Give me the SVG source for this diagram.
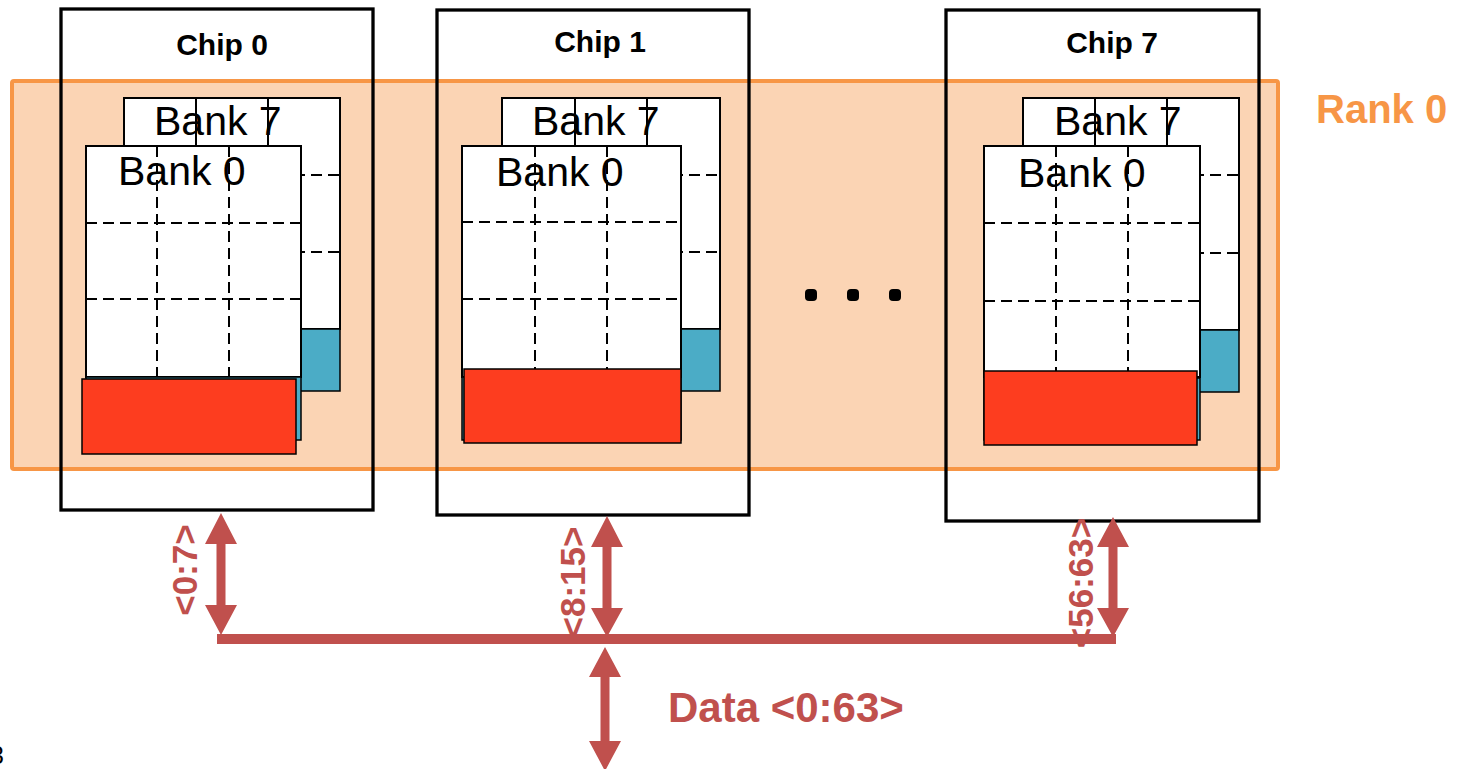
<svg xmlns="http://www.w3.org/2000/svg" width="1459" height="769" viewBox="0 0 1459 769">
<style>
.chip{fill:none;stroke:#000;stroke-width:3.3}
.chipt{font-family:"Liberation Sans",Arial,sans-serif;font-weight:bold;font-size:30px;fill:#000;text-anchor:middle}
.bank{fill:#fff;stroke:#000;stroke-width:2}
.grid{stroke:#000;stroke-width:2;stroke-dasharray:11 6;fill:none}
.solid{stroke:#000;stroke-width:2;fill:none}
.buf{fill:#4BACC6;stroke:#000;stroke-width:1.5}
.red{fill:#FD3D1F;stroke:#000;stroke-width:1.5}
.bankt{font-family:"Liberation Sans",Arial,sans-serif;font-size:41px;fill:#000}
.lbl{font-family:"Liberation Sans",Arial,sans-serif;font-weight:bold;font-size:35px;fill:#C0504D;text-anchor:middle}
.arr{fill:#C0504D}
</style>

<g id="rank0">
<rect x="12" y="81" width="1266" height="388" rx="2" fill="#FBD4B4" stroke="#F79646" stroke-width="4"/>
<text x="1316" y="123" font-family="'Liberation Sans',Arial,sans-serif" font-weight="bold" font-size="40" fill="#F79646">Rank 0</text>
</g>

<g id="chip0">
<rect class="chip" x="61" y="9" width="312" height="501"/>
<text class="chipt" x="222" y="55">Chip 0</text>
<g id="chip0-bank7">
<rect class="bank" x="124" y="98" width="216" height="231"/>
<text class="bankt" x="154" y="135">Bank 7</text>
<line class="solid" x1="196" y1="98" x2="196" y2="146"/>
<line class="solid" x1="268" y1="98" x2="268" y2="146"/>
<line class="grid" x1="124" y1="175" x2="340" y2="175"/>
<line class="grid" x1="124" y1="252" x2="340" y2="252"/>
<rect class="buf" x="124" y="329" width="216" height="62"/>
</g>
<g id="chip0-bank0">
<rect class="bank" x="86" y="146" width="215" height="231"/>
<text class="bankt" x="118" y="185">Bank 0</text>
<line class="grid" x1="157" y1="146" x2="157" y2="377"/>
<line class="grid" x1="229" y1="146" x2="229" y2="377"/>
<line class="grid" x1="86" y1="223" x2="301" y2="223"/>
<line class="grid" x1="86" y1="299" x2="301" y2="299"/>
<rect class="buf" x="86" y="377" width="215" height="63"/>
<rect class="red" x="82" y="379" width="214" height="75"/>
</g>
</g>

<g id="chip1">
<rect class="chip" x="437" y="10" width="312" height="505"/>
<text class="chipt" x="600" y="52">Chip 1</text>
<g id="chip1-bank7">
<rect class="bank" x="502" y="98" width="218" height="231"/>
<text class="bankt" x="532" y="135">Bank 7</text>
<line class="solid" x1="575" y1="98" x2="575" y2="146"/>
<line class="solid" x1="647" y1="98" x2="647" y2="146"/>
<line class="grid" x1="502" y1="175" x2="720" y2="175"/>
<line class="grid" x1="502" y1="252" x2="720" y2="252"/>
<rect class="buf" x="502" y="329" width="218" height="62"/>
</g>
<g id="chip1-bank0">
<rect class="bank" x="462" y="146" width="219" height="231"/>
<text class="bankt" x="496" y="186">Bank 0</text>
<line class="grid" x1="535" y1="146" x2="535" y2="377"/>
<line class="grid" x1="607" y1="146" x2="607" y2="377"/>
<line class="grid" x1="462" y1="222" x2="681" y2="222"/>
<line class="grid" x1="462" y1="299" x2="681" y2="299"/>
<rect class="buf" x="462" y="377" width="219" height="63"/>
<rect class="red" x="464" y="369" width="217" height="74"/>
</g>
</g>

<g id="ellipsis">
<rect x="805" y="289" width="12" height="12" rx="4" fill="#000"/>
<rect x="847" y="289" width="12" height="12" rx="4" fill="#000"/>
<rect x="889" y="289" width="12" height="12" rx="4" fill="#000"/>
</g>

<g id="chip7">
<rect class="chip" x="946" y="10" width="313" height="511"/>
<text class="chipt" x="1112" y="53">Chip 7</text>
<g id="chip7-bank7">
<rect class="bank" x="1023" y="98" width="216" height="232"/>
<text class="bankt" x="1054" y="135">Bank 7</text>
<line class="solid" x1="1095" y1="98" x2="1095" y2="146"/>
<line class="solid" x1="1167" y1="98" x2="1167" y2="146"/>
<line class="grid" x1="1023" y1="175" x2="1239" y2="175"/>
<line class="grid" x1="1023" y1="253" x2="1239" y2="253"/>
<rect class="buf" x="1023" y="330" width="216" height="62"/>
</g>
<g id="chip7-bank0">
<rect class="bank" x="984" y="146" width="216" height="231"/>
<text class="bankt" x="1018" y="187">Bank 0</text>
<line class="grid" x1="1056" y1="146" x2="1056" y2="377"/>
<line class="grid" x1="1128" y1="146" x2="1128" y2="377"/>
<line class="grid" x1="984" y1="223" x2="1200" y2="223"/>
<line class="grid" x1="984" y1="301" x2="1200" y2="301"/>
<rect class="buf" x="984" y="378" width="216" height="62"/>
<rect class="red" x="984" y="371" width="213" height="74"/>
</g>
</g>

<g id="connectors">
<rect class="arr" x="217" y="634" width="899" height="10"/>
<polygon class="arr" points="221,513 237,544 225.5,544 225.5,605 237,605 221,635 205,605 216.5,605 216.5,544 205,544"/>
<polygon class="arr" points="607,516 623,547 611.5,547 611.5,608 623,608 607,637 591,608 602.5,608 602.5,547 591,547"/>
<polygon class="arr" points="1113,517 1129,547 1117.5,547 1117.5,608 1129,608 1113,637 1097,608 1108.5,608 1108.5,547 1097,547"/>
<polygon class="arr" points="605,647 621,677 609.5,677 609.5,741 621,741 605,771 589,741 600.5,741 600.5,677 589,677"/>
<text class="lbl" transform="translate(197,570) rotate(-90)">&lt;0:7&gt;</text>
<text class="lbl" transform="translate(585,582) rotate(-90)">&lt;8:15&gt;</text>
<text class="lbl" transform="translate(1093,583) rotate(-90)">&lt;56:63&gt;</text>
<text x="668" y="722" font-family="'Liberation Sans',Arial,sans-serif" font-weight="bold" font-size="42" fill="#C0504D">Data &lt;0:63&gt;</text>
</g>

<text x="-10" y="764" font-family="'Liberation Sans',Arial,sans-serif" font-size="25" fill="#000">3</text>
</svg>
